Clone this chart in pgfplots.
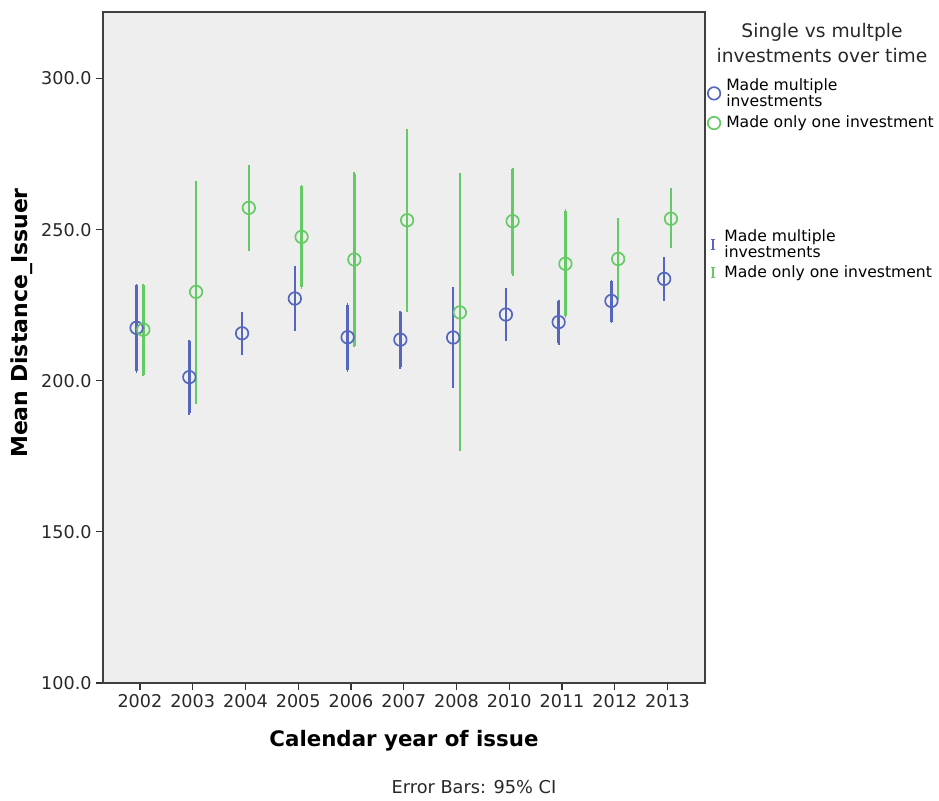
\documentclass[border=0pt]{standalone}
\usepackage{pgfplots}
\usepackage{pgfplotstable}
\pgfplotsset{compat=1.18}
\usepackage{fontspec}
\setmainfont{DejaVu Sans}

\definecolor{multi}{RGB}{84,102,190}
\definecolor{single}{RGB}{100,202,100}
\definecolor{panel}{RGB}{238,238,238}
\definecolor{txt}{RGB}{40,40,40}

% mean, lower and upper bound of the 95% CI, per calendar year (index 0 = 2002)
\pgfplotstableread{
idx mean lo hi
0 217.5 203.1 231.6
1 201.2 189.3 213.0
2 215.7 209.0 222.2
3 227.2 216.9 237.5
4 214.4 203.4 225.2
5 213.6 204.5 222.7
6 214.3 198.1 230.6
7 221.9 213.8 230.1
8 219.4 212.5 226.3
9 226.4 219.6 232.9
10 233.7 226.8 240.3
}\multiple
\pgfplotstableread{
idx mean lo hi
0 216.9 202.0 231.6
1 229.4 192.8 265.7
2 257.2 243.4 271.0
3 247.6 230.9 264.3
4 240.1 211.6 268.5
5 253.1 223.3 282.9
6 222.6 177.2 268.2
7 252.8 235.3 269.9
8 238.7 221.3 256.3
9 240.3 227.2 253.3
10 253.6 244.3 263.2
}\single

\pgfplotsset{
  frame/.style={
    at={(77.25pt,87.75pt)}, anchor=south west,
    scale only axis, width=451.5pt, height=503.25pt,
    xmin=-0.70, xmax=10.71, ymin=100, ymax=322,
  },
  ci/.style={
    only marks, mark=o, line width=1.8pt,
    mark options={line width=1.25pt, mark size=4.7pt, solid},
    error bars/y dir=both, error bars/y explicit,
    error bars/error bar style={line width=1.8pt},
    error bars/error mark=-,
    error bars/error mark options={mark size=1.2pt, line width=1.3pt},
  },
}

\begin{document}
\begin{tikzpicture}
\path[use as bounding box] (0pt,0pt) rectangle (704.25pt,600pt);

\begin{axis}[
  frame,
  axis background/.style={fill=panel},
  axis line style={draw=black!75, line width=1pt},
  xtick={0,...,10},
  xticklabels={2002,2003,2004,2005,2006,2007,2008,2010,2011,2012,2013},
  ytick={100,150,200,250,300},
  yticklabel style={/pgf/number format/.cd, fixed, fixed zerofill, precision=1},
  /pgf/number format/assume math mode=true,
  tick label style={font=\fontsize{13.2}{15}\selectfont, text=txt},
  tick align=outside, xtick pos=bottom, ytick pos=left,
  major tick length=5pt,
  tick style={line width=0.9pt, black!80},
  xlabel={\textbf{Calendar year of issue}},
  ylabel={\textbf{Mean Distance\_Issuer}},
  xlabel style={font=\fontsize{16}{18}\selectfont,
    at={(axis description cs:0.5,-0.0864)}, anchor=center},
  ylabel style={font=\fontsize{16.5}{18}\selectfont,
    at={(axis description cs:-0.1346,0.5365)}, anchor=center},
  legend style={at={(1.0,0.905)}, anchor=north west, draw=none, fill=none,
    inner sep=0pt, row sep=2pt,
    cells={align=left, anchor=west},
    font=\fontsize{11.7}{11.7}\selectfont},
  legend image code/.code={
    \path (0pt,0pt) (0.42cm,0pt);
    \draw[#1, mark size=4.4pt] plot coordinates {(0.2cm,0cm)};},
]
\addplot+[color=multi, ci]
  table[x expr=\thisrow{idx}-0.064, y=mean,
        y error plus expr=\thisrow{hi}-\thisrow{mean},
        y error minus expr=\thisrow{mean}-\thisrow{lo}] {\multiple};
\addlegendentry{Made multiple\\investments}
\addplot+[color=single, ci]
  table[x expr=\thisrow{idx}+0.064, y=mean,
        y error plus expr=\thisrow{hi}-\thisrow{mean},
        y error minus expr=\thisrow{mean}-\thisrow{lo}] {\single};
\addlegendentry{Made only one investment}
\end{axis}

% second legend: error bar symbols
\begin{axis}[
  frame, hide axis,
  legend style={at={(1.0,0.680)}, anchor=north west, draw=none, fill=none,
    inner sep=0pt, row sep=1pt,
    cells={align=left, anchor=west},
    font=\fontsize{11.7}{11.7}\selectfont},
  legend image code/.code={
    \path (0pt,0pt) (0.42cm,0pt);
    \draw[#1, line width=1.1pt] (0.2cm,-3.8pt) -- (0.2cm,3.8pt);
    \draw[#1, line width=1pt] (0.2cm-1.5pt,-3.8pt) -- (0.2cm+1.5pt,-3.8pt);
    \draw[#1, line width=1pt] (0.2cm-1.5pt,3.8pt) -- (0.2cm+1.5pt,3.8pt);},
]
\addlegendimage{color=multi}
\addlegendentry{Made multiple\\investments}
\addlegendimage{color=single}
\addlegendentry{Made only one investment}
\end{axis}

\node[align=center, font=\fontsize{14}{18.5}\selectfont, text=txt] at (616.5pt,567.75pt)
  {Single vs multple\\investments over time};
\node[font=\fontsize{13.3}{15}\selectfont, text=txt] at (355.5pt,9.75pt) {Error Bars: 95\% CI};
\end{tikzpicture}
\end{document}
